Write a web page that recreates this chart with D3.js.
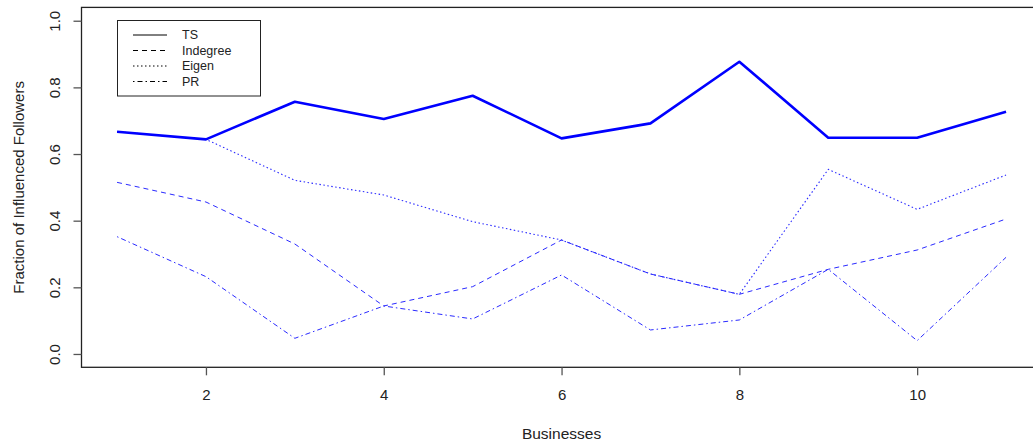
<!DOCTYPE html>
<html><head><meta charset="utf-8">
<script src="https://cdn.jsdelivr.net/npm/d3@7"></script>
<style>body{margin:0;background:#fff}svg{display:block}text{font-family:"Liberation Sans",Arial,sans-serif;fill:#222}</style>
</head><body>
<script>
const businesses = [1,2,3,4,5,6,7,8,9,10,11];
const ts       = [0.667,0.644,0.757,0.705,0.775,0.647,0.692,0.877,0.649,0.649,0.727];
const indegree = [0.515,0.456,0.330,0.144,0.202,0.342,0.240,0.179,0.254,0.312,0.405];
const eigen    = [0.667,0.644,0.521,0.477,0.397,0.342,0.240,0.179,0.554,0.434,0.537];
const pr       = [0.352,0.232,0.047,0.144,0.105,0.237,0.072,0.102,0.254,0.040,0.290];
const xTicks = [2,4,6,8,10];
const yTicks = [0,0.2,0.4,0.6,0.8,1.0];
const seriesNames = ["TS","Indegree","Eigen","PR"];

const W=1033,H=447;
const svg=d3.select("body").append("svg").attr("width",W).attr("height",H);
const x=d3.scaleLinear().domain([0.6,11.4]).range([81.5,1041.6]);
const y=d3.scaleLinear().domain([-0.04,1.04]).range([367.3,7.4]);

// box
svg.append("rect").attr("x",x(0.6)).attr("y",y(1.04)).attr("width",x(11.4)-x(0.6)).attr("height",y(-0.04)-y(1.04))
  .attr("fill","none").attr("stroke","#222").attr("stroke-width",1.3);

// axes
const xa=svg.append("g").attr("transform",`translate(0,${y(-0.04)})`)
  .call(d3.axisBottom(x).tickValues(xTicks).tickSize(8).tickPadding(14).tickFormat(d3.format("d")));
xa.select(".domain").remove();
xa.selectAll("line").attr("stroke","#555").attr("stroke-width",1.3);
xa.selectAll("text").attr("font-size",15).style("fill","#222").attr("font-family","Liberation Sans, Arial, sans-serif");

const ya=svg.append("g").attr("transform",`translate(${x(0.6)},0)`)
  .call(d3.axisLeft(y).tickValues(yTicks).tickSize(8).tickFormat(d3.format(".1f")));
ya.select(".domain").remove();
ya.selectAll("line").attr("stroke","#555").attr("stroke-width",1.3);
ya.selectAll("text").attr("font-size",15).style("fill","#222").attr("font-family","Liberation Sans, Arial, sans-serif")
  .attr("x",0).attr("dy",null).attr("text-anchor","middle")
  .attr("transform","translate(-27,0) rotate(-90)").attr("dominant-baseline","central");

// titles
svg.append("text").attr("x",(x(0.6)+x(11.4))/2).attr("y",439).attr("text-anchor","middle").attr("font-size",15.5).text("Businesses");
svg.append("text").attr("transform",`translate(18,${(y(-0.04)+y(1.04))/2}) rotate(-90)`).attr("text-anchor","middle")
  .attr("dominant-baseline","central").attr("font-size",15).text("Fraction of Influenced Followers");

// lines
const line=d3.line().x((d,i)=>x(businesses[i])).y(d=>y(d));
const styles=[
  {data:ts,dash:null,w:2.6,c:"#0000ff"},
  {data:indegree,dash:"5 4",w:1,c:"#2a2aff"},
  {data:eigen,dash:"1.5 2.5",w:1.1,c:"#2a2aff"},
  {data:pr,dash:"1.5 3 5 3",w:1,c:"#2a2aff"}
];
[3,2,1,0].forEach(k=>{
  const s=styles[k];
  svg.append("path").datum(s.data).attr("d",line).attr("fill","none").attr("stroke",s.c)
    .attr("stroke-width",s.w).attr("stroke-dasharray",s.dash).attr("stroke-linejoin","round");
});

// legend
const lg=svg.append("g");
lg.append("rect").attr("x",117.5).attr("y",20.5).attr("width",143).attr("height",75.5).attr("fill","#fff").attr("stroke","#222").attr("stroke-width",1);
const legDash=[null,"5 4","1.5 2.5","1.5 3 5 3"];
seriesNames.forEach((n,i)=>{
  const yy=35+i*15.5;
  lg.append("line").attr("x1",133).attr("x2",167).attr("y1",yy).attr("y2",yy).attr("stroke","#000").attr("stroke-width",1).attr("stroke-dasharray",legDash[i]);
  lg.append("text").attr("x",182).attr("y",yy).attr("dominant-baseline","central").attr("font-size",12.5).text(n);
});
</script>
</body></html>
